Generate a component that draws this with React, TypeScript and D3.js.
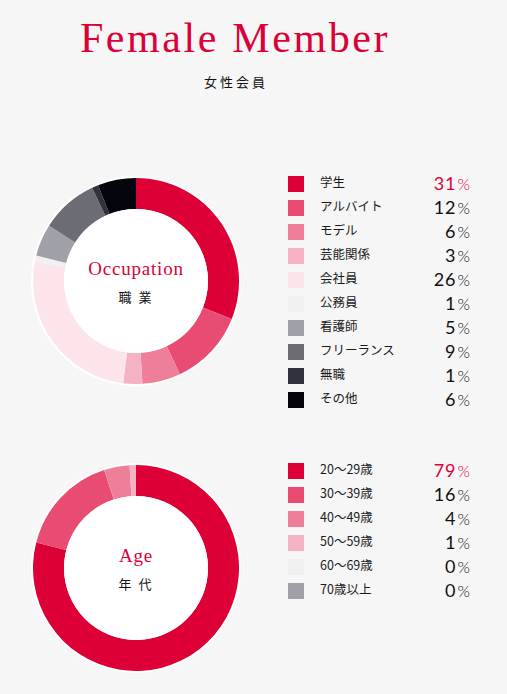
import React, { useEffect, useRef } from "react";
import * as d3 from "d3";

// данные
const occupationLabels = ["学生", "アルバイト", "モデル", "芸能関係", "会社員", "公務員", "看護師", "フリーランス", "無職", "その他"];
const occupationValues = [31, 12, 6, 3, 26, 1, 5, 9, 1, 6];
const occupationColors = ["#dc0037", "#e84c72", "#ef7f99", "#f5b2c3", "#fce4ea", "#f0f0f0", "#a0a0a9", "#6c6c75", "#32323c", "#05050d"];

const ageLabels = ["20～29歳", "30～39歳", "40～49歳", "50～59歳", "60～69歳", "70歳以上"];
const ageValues = [79, 16, 4, 1, 0, 0];
const ageColors = ["#dc0037", "#e84c72", "#ef7f99", "#f5b2c3", "#f0f0f0", "#a0a0a9"];

const RED = "#dc0037";
const SERIF = "'Liberation Serif', 'DejaVu Serif', serif";
const SANS = "'Noto Sans CJK JP', 'Noto Sans', sans-serif";
const NUM = "'Lato', 'Noto Sans', sans-serif";

interface Block {
	labels: string[];
	values: number[];
	colors: string[];
	title: string;
	sub: string;
	cy: number;
	legendTop: number;
}

const blocks: Block[] = [
	{ labels: occupationLabels, values: occupationValues, colors: occupationColors, title: "Occupation", sub: "職 業", cy: 281, legendTop: 184 },
	{ labels: ageLabels, values: ageValues, colors: ageColors, title: "Age", sub: "年 代", cy: 568, legendTop: 471 },
];

export default function App() {
	const svgRef = useRef<SVGSVGElement | null>(null);

	useEffect(() => {
		if (!svgRef.current) return;
		const svg = d3.select(svgRef.current);
		svg.selectAll("*").remove();

		const width = 507;
		const height = 694;
		const cx = 136;
		const outerR = 103;
		const innerR = 72;

		svg.append("rect").attr("width", width).attr("height", height).attr("fill", "#f6f6f6");

		// заголовок
		svg
			.append("text")
			.attr("x", 235)
			.attr("y", 52)
			.attr("text-anchor", "middle")
			.attr("font-family", SERIF)
			.attr("font-size", 42)
			.attr("letter-spacing", 2.6)
			.attr("fill", RED)
			.text("Female Member");

		svg
			.append("text")
			.attr("x", 236)
			.attr("y", 87)
			.attr("text-anchor", "middle")
			.attr("font-family", SANS)
			.attr("font-size", 13)
			.attr("letter-spacing", 3)
			.attr("fill", "#111")
			.text("女性会員");

		const pie = d3
			.pie<number>()
			.sort(null)
			.value((d) => d);

		const arc = d3.arc<d3.PieArcDatum<number>>().innerRadius(innerR).outerRadius(outerR);

		const rowY = d3.scaleLinear().domain([0, 1]).range([0, 24]);

		blocks.forEach((b) => {
			const g = svg.append("g").attr("transform", `translate(${cx}, ${b.cy})`);

			g.append("circle").attr("r", outerR + 2).attr("fill", "#fff");

			g.selectAll("path")
				.data(pie(b.values))
				.enter()
				.append("path")
				.attr("d", arc)
				.attr("fill", (_, i) => b.colors[i]);

			g.append("circle").attr("r", innerR).attr("fill", "#fff");

			g.append("text")
				.attr("y", -6)
				.attr("text-anchor", "middle")
				.attr("font-family", SERIF)
				.attr("font-size", 19)
				.attr("letter-spacing", 0.8)
				.attr("fill", RED)
				.text(b.title);

			g.append("text")
				.attr("y", 21)
				.attr("text-anchor", "middle")
				.attr("font-family", SANS)
				.attr("font-size", 13)
				.attr("letter-spacing", 2)
				.attr("fill", "#111")
				.style("white-space", "pre")
				.text(b.sub);

			// легенда
			const legend = svg.append("g");
			b.labels.forEach((label, i) => {
				const y = b.legendTop + rowY(i);
				legend
					.append("rect")
					.attr("x", 288)
					.attr("y", y - 8)
					.attr("width", 16)
					.attr("height", 16)
					.attr("fill", b.colors[i]);
				legend
					.append("text")
					.attr("x", 320)
					.attr("y", y + 3)
					.attr("font-family", SANS)
					.attr("font-size", 12.5)
					.attr("fill", "#1a1a1a")
					.text(label);
				const t = legend
					.append("text")
					.attr("x", 470)
					.attr("y", y + 6)
					.attr("text-anchor", "end")
					.attr("font-family", NUM)
					.attr("fill", i === 0 ? RED : "#111");
				t.append("tspan").attr("font-size", 18).attr("letter-spacing", 1).text(String(b.values[i]));
				t.append("tspan").attr("font-size", 16).attr("font-weight", 300).attr("dx", 1).text("%");
			});
		});
	}, []);

	return (
		<svg
			ref={svgRef}
			width={507}
			height={694}
			style={{ position: "absolute", left: 0, top: 0, display: "block" }}
		></svg>
	);
}
